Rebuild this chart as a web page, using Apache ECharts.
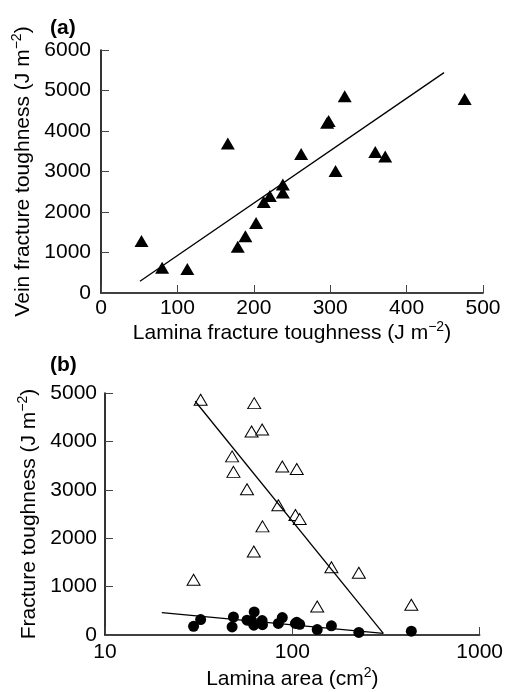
<!DOCTYPE html>
<html>
<head>
<meta charset="utf-8">
<script src="https://cdn.jsdelivr.net/npm/echarts@6/dist/echarts.min.js"></script>
<style>
html,body{margin:0;padding:0;background:#fff;}
#chart{width:506px;height:692px;}
</style>
</head>
<body>
<div id="chart"></div>
<script>
// Species data (shared by both panels)
const laminaArea = [29.7, 32.4, 47.7, 48.5, 57.3, 62.6, 60.6, 69.0, 62.3, 69.3, 84.2, 88.4, 105.6, 103.9, 109.5, 135.8, 161.7, 226.5, 431.8];
const laminaToughness = [179, 319, 166, 372, 307, 476, 296, 298, 203, 213, 238, 359, 262, 238, 221, 113, 189, 53, 80];
const veinToughness = [1140, 4860, 3690, 3370, 3010, 4790, 4205, 4245, 1726, 2245, 2680, 3480, 3430, 2480, 2395, 590, 1400, 1285, 625];

// Regression line end points
const fitA_x = [51, 449];
const fitA_y = [288, 5441];
const fitVein_x = [30.3, 306];
const fitVein_y = [4830, 35];
const fitLamina_x = [20.1, 306];
const fitLamina_y = [461, 34];

// Tick labels
const ticksA_x = [0, 100, 200, 300, 400, 500];
const ticksA_y = [0, 1000, 2000, 3000, 4000, 5000, 6000];
const ticksB_x = [10, 100, 1000];
const ticksB_y = [0, 1000, 2000, 3000, 4000, 5000];

const FONT = "'Liberation Sans', Arial, Helvetica, sans-serif";
const zip = (a, b) => a.map((v, i) => [v, b[i]]);

const rich = {
  m: {fontSize: 21, color: '#000', fontFamily: FONT, lineHeight: 26},
  s: {fontSize: 14, color: '#000', fontFamily: FONT, verticalAlign: 'top'}
};

function axisCommon(margin) {
  return {
    axisLine: {show: true, lineStyle: {color: '#000', width: 1.6}},
    axisTick: {show: true, inside: true, length: 8, lineStyle: {color: '#444', width: 1}},
    axisLabel: {color: '#000', fontSize: 21, fontFamily: FONT, margin: margin,
      formatter: v => String(Math.round(v))},
    splitLine: {show: false},
    nameLocation: 'middle',
    nameTextStyle: {rich: rich}
  };
}

const chart = echarts.init(document.getElementById('chart'), null, {renderer: 'canvas'});
chart.setOption({
  backgroundColor: '#fff',
  animation: false,
  title: [
    {text: '(a)', left: 45, top: 13, textStyle: {fontSize: 21, fontWeight: 'bold', color: '#000', fontFamily: FONT}},
    {text: '(b)', left: 45, top: 350, textStyle: {fontSize: 21, fontWeight: 'bold', color: '#000', fontFamily: FONT}}
  ],
  grid: [
    {left: 101, top: 50, width: 382, height: 243},
    {left: 105, top: 393, width: 378, height: 242}
  ],
  xAxis: [
    Object.assign(axisCommon(5), {
      gridIndex: 0, type: 'value', min: ticksA_x[0], max: ticksA_x[ticksA_x.length - 1], interval: 100,
      name: '{m|Lamina fracture toughness (J m}{s|−2}{m|)}', nameGap: 26
    }),
    Object.assign(axisCommon(7), {
      gridIndex: 1, type: 'log', logBase: 10, min: ticksB_x[0], max: ticksB_x[ticksB_x.length - 1],
      name: '{m|Lamina area (cm}{s|2}{m|)}', nameGap: 31,
      minorTick: {show: false}
    })
  ],
  yAxis: [
    Object.assign(axisCommon(10), {
      gridIndex: 0, type: 'value', min: ticksA_y[0], max: ticksA_y[ticksA_y.length - 1], interval: 1000,
      name: '{m|Vein fracture toughness (J m}{s|−2}{m|)}', nameGap: 55
    }),
    Object.assign(axisCommon(8), {
      gridIndex: 1, type: 'value', min: ticksB_y[0], max: ticksB_y[ticksB_y.length - 1], interval: 1000,
      name: '{m|Fracture toughness (J m}{s|−2}{m|)}', nameGap: 62
    })
  ],
  series: [
    {
      type: 'line', xAxisIndex: 0, yAxisIndex: 0, data: zip(fitA_x, fitA_y),
      symbol: 'none', lineStyle: {color: '#000', width: 1.3}, silent: true
    },
    {
      type: 'scatter', xAxisIndex: 0, yAxisIndex: 0, data: zip(laminaToughness, veinToughness),
      symbol: 'triangle', symbolSize: [14, 12], itemStyle: {color: '#000', opacity: 1}
    },
    {
      type: 'line', xAxisIndex: 1, yAxisIndex: 1, data: zip(fitVein_x, fitVein_y),
      symbol: 'none', lineStyle: {color: '#000', width: 1.3}, silent: true
    },
    {
      type: 'line', xAxisIndex: 1, yAxisIndex: 1, data: zip(fitLamina_x, fitLamina_y),
      symbol: 'none', lineStyle: {color: '#000', width: 1.3}, silent: true
    },
    {
      type: 'scatter', xAxisIndex: 1, yAxisIndex: 1, data: zip(laminaArea, veinToughness),
      symbol: 'triangle', symbolSize: [13, 11], itemStyle: {color: '#fff', borderColor: '#000', borderWidth: 1, opacity: 1}
    },
    {
      type: 'scatter', xAxisIndex: 1, yAxisIndex: 1, data: zip(laminaArea, laminaToughness),
      symbol: 'circle', symbolSize: 11, itemStyle: {color: '#000', opacity: 1}
    }
  ]
});
</script>
</body>
</html>
